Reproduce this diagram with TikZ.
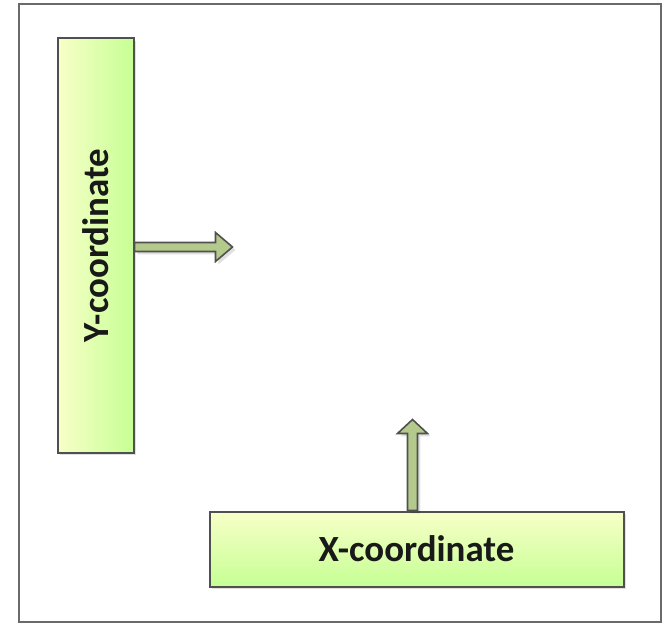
\documentclass[tikz,border=0pt]{standalone}
\usepackage{fontspec}
\setmainfont{Carlito}
\usetikzlibrary{calc,shadows}
\definecolor{edge}{HTML}{505050}
\definecolor{paleyellow}{HTML}{F8FFC8}
\definecolor{lightgreen}{HTML}{C6FF94}
\definecolor{arrowfill}{HTML}{B4C98C}
\begin{document}
\begin{tikzpicture}[x=0.75pt,y=-0.75pt,
  frame/.style={draw=edge!85, line width=1.5pt},
  softshadow/.style={drop shadow={shadow xshift=2.2pt, shadow yshift=-2.2pt, opacity=0.12, fill=black}},
  coordbox/.style={draw=edge, line width=1.5pt, inner sep=0pt, softshadow,
    font=\fontsize{27.7}{33}\selectfont\bfseries, text=black!90},
  blockarrow/.style={draw=edge, line width=1.2pt, fill=arrowfill, line join=miter, softshadow}]
  \useasboundingbox (0,0) rectangle (671,624);

  % outer frame
  \draw[frame] (19,4) rectangle (661,622);

  % the two axis boxes
  \node[coordbox, left color=paleyellow, right color=lightgreen,
        minimum width=57pt, minimum height=310.5pt] (ybox) at (95.5,245.5)
        {\rotatebox{90}{Y-coordinate}};
  \node[coordbox, top color=paleyellow, bottom color=lightgreen,
        minimum width=310.5pt, minimum height=56.25pt] (xbox) at (416.5,549)
        {X-coordinate};

  % block arrows leaving the boxes
  \draw[blockarrow] ($(ybox.east)+(0,-3)$) -- ++(81,0) -- ++(0,-10) -- ++(17,14.5)
        -- ++(-17,14.5) -- ++(0,-10) -- ++(-81,0) -- cycle;
  \draw[blockarrow] ($(xbox.north)+(-9,0)$) -- ++(0,-77) -- ++(-10,0) -- ++(15,-14)
        -- ++(15,14) -- ++(-10,0) -- ++(0,77) -- cycle;
\end{tikzpicture}
\end{document}
